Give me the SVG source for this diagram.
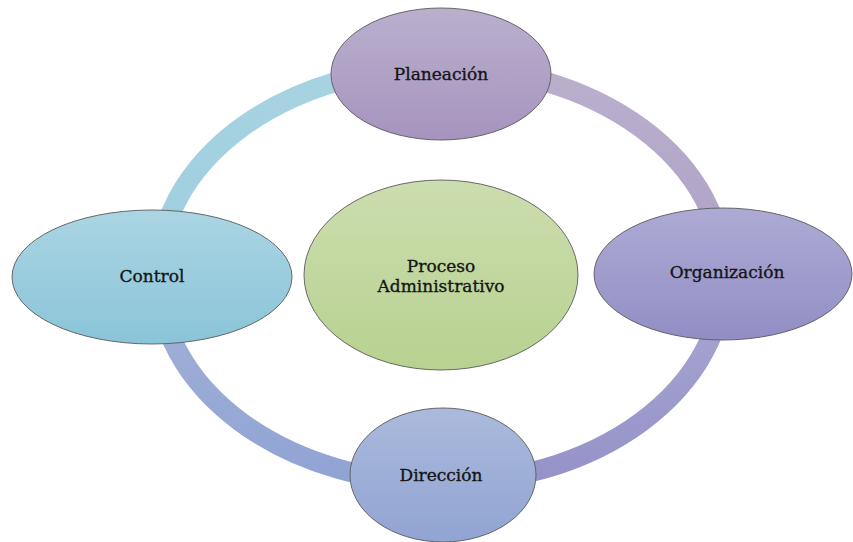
<svg xmlns="http://www.w3.org/2000/svg" width="853" height="542" viewBox="0 0 853 542">
<defs>
<linearGradient id="gTL" x1="0" y1="67" x2="0" y2="275" gradientUnits="userSpaceOnUse"><stop offset="0" stop-color="#A8D3E1"/><stop offset="1" stop-color="#9DCEDF"/></linearGradient>
<linearGradient id="gTR" x1="0" y1="67" x2="0" y2="275" gradientUnits="userSpaceOnUse"><stop offset="0" stop-color="#BAB0CD"/><stop offset="1" stop-color="#AEA0C6"/></linearGradient>
<linearGradient id="gBR" x1="0" y1="275" x2="0" y2="483" gradientUnits="userSpaceOnUse"><stop offset="0" stop-color="#A9A8D2"/><stop offset="1" stop-color="#9592C8"/></linearGradient>
<linearGradient id="gBL" x1="0" y1="275" x2="0" y2="483" gradientUnits="userSpaceOnUse"><stop offset="0" stop-color="#A6B2D8"/><stop offset="1" stop-color="#8FA3D3"/></linearGradient>
<linearGradient id="nPlan" x1="0" y1="0" x2="0" y2="1"><stop offset="0" stop-color="#BAAFCD"/><stop offset="1" stop-color="#A694BE"/></linearGradient>
<linearGradient id="nOrg" x1="0" y1="0" x2="0" y2="1"><stop offset="0" stop-color="#ADABD4"/><stop offset="1" stop-color="#928EC5"/></linearGradient>
<linearGradient id="nDir" x1="0" y1="0" x2="0" y2="1"><stop offset="0" stop-color="#ABBADC"/><stop offset="1" stop-color="#91A4D2"/></linearGradient>
<linearGradient id="nCtl" x1="0" y1="0" x2="0" y2="1"><stop offset="0" stop-color="#ABD5E3"/><stop offset="1" stop-color="#8AC4D8"/></linearGradient>
<linearGradient id="nCen" x1="0" y1="0" x2="0" y2="1"><stop offset="0" stop-color="#CCDDAF"/><stop offset="1" stop-color="#B8D190"/></linearGradient>
</defs>
<style>
.ring{fill:none;stroke-width:20}
.node{stroke:#5a5a5a;stroke-width:0.9}
.lbl{font-family:"DejaVu Serif","Liberation Serif",serif;font-size:17px;fill:#151515;stroke:#151515;stroke-width:0.35;text-anchor:middle}
</style>
<g id="connectors">
<path class="ring" stroke="url(#gTL)" d="M158,275 A283,208 0 0 1 441,67"/>
<path class="ring" stroke="url(#gTR)" d="M441,67 A283,208 0 0 1 724,275"/>
<path class="ring" stroke="url(#gBR)" d="M724,275 A283,208 0 0 1 441,483"/>
<path class="ring" stroke="url(#gBL)" d="M441,483 A283,208 0 0 1 158,275"/>
</g>
<g id="center">
<ellipse class="node" cx="441" cy="275" rx="137" ry="95" fill="url(#nCen)"/>
<text class="lbl" x="441" y="272">Proceso</text>
<text class="lbl" x="441" y="292">Administrativo</text>
</g>
<g id="planeacion">
<ellipse class="node" cx="441" cy="74" rx="110" ry="66" fill="url(#nPlan)"/>
<text class="lbl" x="441" y="80">Planeación</text>
</g>
<g id="organizacion">
<ellipse class="node" cx="723" cy="274" rx="129" ry="66" fill="url(#nOrg)"/>
<text class="lbl" x="727" y="278">Organización</text>
</g>
<g id="direccion">
<ellipse class="node" cx="443" cy="475" rx="93" ry="67" fill="url(#nDir)"/>
<text class="lbl" x="441" y="481">Dirección</text>
</g>
<g id="control">
<ellipse class="node" cx="152" cy="277" rx="140" ry="67" fill="url(#nCtl)"/>
<text class="lbl" x="152" y="282">Control</text>
</g>
</svg>
